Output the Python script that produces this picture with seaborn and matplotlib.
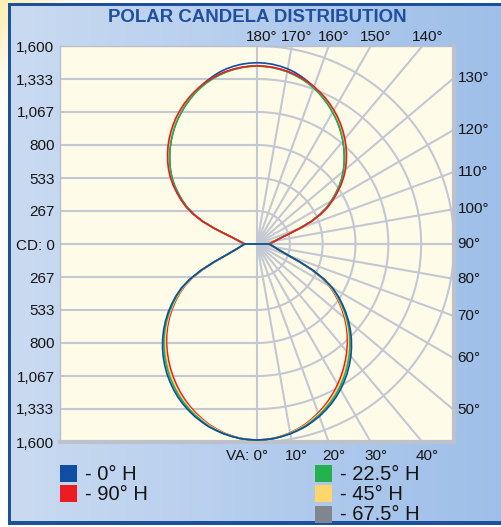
import numpy as np
import pandas as pd
import matplotlib
matplotlib.use("Agg")
import matplotlib.pyplot as plt
import seaborn as sns
from matplotlib.patches import Rectangle

# ---------------- data ----------------
# vertical angles (deg), lower hemisphere 0..90 and upper hemisphere 90..180, 2.5 deg steps
va_lower = [0, 2.5, 5, 7.5, 10, 12.5, 15, 17.5, 20, 22.5, 25, 27.5, 30, 32.5, 35, 37.5, 40, 42.5, 45,
            47.5, 50, 52.5, 55, 57.5, 60, 62.5, 65, 67.5, 70, 72.5, 75, 77.5, 80, 82.5, 85, 87.5, 90]
va_upper = [90, 92.5, 95, 97.5, 100, 102.5, 105, 107.5, 110, 112.5, 115, 117.5, 120, 122.5, 125, 127.5,
            130, 132.5, 135, 137.5, 140, 142.5, 145, 147.5, 150, 152.5, 155, 157.5, 160, 162.5, 165,
            167.5, 170, 172.5, 175, 177.5, 180]

# candela, lower hemisphere
cd_lower_0 = [1584, 1582, 1578, 1569, 1558, 1543, 1527, 1505, 1482, 1455, 1426, 1393, 1357, 1318, 1277,
              1232, 1186, 1136, 1084, 1029, 971, 910, 846, 780, 709, 615, 500, 375, 275, 222, 184, 160,
              143, 130, 118, 108, 100]
cd_lower_22 = [1584, 1582, 1577, 1567, 1555, 1539, 1521, 1497, 1472, 1443, 1412, 1378, 1341, 1301, 1259,
               1214, 1168, 1119, 1068, 1014, 956, 896, 833, 768, 698, 607, 495, 372, 274, 221, 184, 160,
               143, 130, 118, 108, 100]
cd_lower_45 = [1584, 1582, 1577, 1566, 1553, 1534, 1515, 1489, 1463, 1432, 1400, 1364, 1326, 1285, 1243,
               1198, 1152, 1103, 1053, 999, 943, 884, 822, 757, 688, 599, 490, 370, 273, 220, 184, 160,
               143, 130, 118, 108, 100]
cd_lower_67 = [1584, 1582, 1577, 1566, 1553, 1534, 1515, 1489, 1463, 1432, 1400, 1364, 1326, 1285, 1243,
               1198, 1152, 1103, 1053, 999, 943, 884, 822, 757, 688, 599, 490, 370, 273, 220, 184, 160,
               143, 130, 118, 108, 100]
cd_lower_90 = [1584, 1582, 1576, 1564, 1550, 1530, 1509, 1482, 1453, 1421, 1387, 1350, 1310, 1269, 1226,
               1181, 1135, 1087, 1037, 985, 929, 871, 810, 746, 678, 591, 485, 367, 271, 220, 183, 160,
               143, 130, 118, 108, 100]

# candela, upper hemisphere
cd_upper_0 = [100, 109, 120, 135, 153, 177, 210, 272, 365, 476, 563, 638, 699, 757, 815, 868, 916, 961,
              1004, 1046, 1086, 1125, 1162, 1197, 1229, 1261, 1290, 1320, 1350, 1377, 1400, 1421, 1437,
              1449, 1458, 1463, 1465]
cd_upper_22 = [100, 109, 120, 135, 153, 177, 210, 272, 365, 476, 563, 638, 699, 757, 815, 868, 916, 961,
               1004, 1046, 1086, 1125, 1162, 1197, 1229, 1261, 1290, 1317, 1342, 1364, 1383, 1399, 1413,
               1423, 1431, 1436, 1438]
cd_upper_45 = [100, 109, 120, 135, 153, 177, 211, 273, 367, 479, 568, 644, 706, 765, 824, 878, 927, 972,
               1016, 1058, 1098, 1136, 1173, 1207, 1239, 1270, 1298, 1324, 1348, 1369, 1387, 1402, 1415,
               1425, 1432, 1437, 1439]
cd_upper_67 = [100, 109, 120, 135, 153, 177, 211, 273, 367, 479, 568, 644, 706, 765, 824, 878, 927, 972,
               1016, 1058, 1098, 1136, 1173, 1207, 1239, 1270, 1298, 1324, 1348, 1369, 1387, 1402, 1415,
               1425, 1432, 1437, 1439]
cd_upper_90 = [100, 109, 120, 135, 153, 178, 212, 275, 370, 482, 572, 650, 713, 773, 833, 888, 938, 984,
               1028, 1070, 1110, 1148, 1184, 1218, 1249, 1279, 1306, 1331, 1354, 1374, 1391, 1406, 1418,
               1427, 1434, 1438, 1440]

cd_ticks = [1600, 1333.33, 1066.67, 800, 533.33, 266.67, 0,
            -266.67, -533.33, -800, -1066.67, -1333.33, -1600]
cd_tick_labels = ["1,600", "1,333", "1,067", "800", "533", "267", "CD: 0",
                  "267", "533", "800", "1,067", "1,333", "1,600"]
top_angles = [180, 170, 160, 150, 140]
right_angles = [130, 120, 110, 100, 90, 80, 70, 60, 50]
bottom_angles = [0, 10, 20, 30, 40]

legend_labels = ["- 0° H", "- 90° H", "- 22.5° H", "- 45° H", "- 67.5° H"]
series_colors = {"0": "#0f4ea3", "22.5": "#22b14c", "45": "#ffd66b", "67.5": "#80868e", "90": "#ec1c24"}

# ---------------- figure ----------------
sns.set_style("white")
plt.rcParams['font.family'] = ['Liberation Sans', 'DejaVu Sans']

W, H = 501, 527
fig = plt.figure(figsize=(W / 100, H / 100), dpi=100)

# background panel with gradient and frame
bg = fig.add_axes([0, 0, 1, 1], zorder=-5)
yy, xx = np.mgrid[0:H, 0:W]
img = np.ones((H, W, 3))
glow = np.exp(-(xx ** 2 + yy ** 2) / (2 * 45.0 ** 2))[..., None]
img = img * (1 - glow) + np.array([1.0, 0.94, 0.72]) * glow
inside = (xx >= 9) & (yy >= 4) & (yy <= 522)
t = (xx / W)[..., None]
grad = np.array([203, 219, 241]) / 255 * (1 - t) + np.array([158, 191, 233]) / 255 * t
img = np.where(inside[..., None], grad, img)
frame = (((xx >= 8) & (xx <= 10) & (yy >= 3) & (yy <= 524)) |
         ((yy >= 3) & (yy <= 5) & (xx >= 8)) |
         ((yy >= 521) & (yy <= 524) & (xx >= 8)))
img[frame] = np.array([28, 79, 156]) / 255
bg.imshow(img, interpolation='nearest', aspect='auto', extent=[0, W, H, 0])
bg.axis('off')

# main plot area
ax = fig.add_axes([60 / W, 1 - 442 / H, 394 / W, 396 / H])
ax.set_facecolor('#fffbe9')
R = 1600
ax.set_xlim(-R, R)
ax.set_ylim(-R, R)

gc = '#c3c8d3'
glw = 1.5
step = R / 6
for k in range(1, 6):
    for s in (1, -1):
        ax.plot([-R, 0], [s * k * step] * 2, color=gc, lw=glw, zorder=1)
ax.plot([-R, R], [0, 0], color=gc, lw=glw, zorder=1)
ax.plot([0, 0], [-R, R], color=gc, lw=glw, zorder=1)
for a in range(10, 180, 10):
    rad = np.deg2rad(a)
    ax.plot([0, 3 * R * np.sin(rad)], [0, -3 * R * np.cos(rad)], color=gc, lw=glw, zorder=1)
phi = np.linspace(0, np.pi, 300)
for k in range(1, 7):
    ax.plot(k * step * np.sin(phi), -k * step * np.cos(phi), color=gc, lw=glw, zorder=1)


def lobe(va, cd, upper):
    va = np.deg2rad(np.asarray(va, float))
    cd = np.asarray(cd, float)
    xr = cd * np.sin(va)
    yr = -cd * np.cos(va)
    if not upper:
        xs = np.concatenate([-xr[::-1], xr[1:], [-xr[-1]]])
        ys = np.concatenate([yr[::-1], yr[1:], [yr[-1]]])
    else:
        xs = np.concatenate([xr, -xr[::-1][1:], [xr[0]]])
        ys = np.concatenate([yr, yr[::-1][1:], [yr[0]]])
    return pd.DataFrame({"x": xs, "y": ys})


upper_order = [("0", cd_upper_0), ("67.5", cd_upper_67), ("45", cd_upper_45),
               ("22.5", cd_upper_22), ("90", cd_upper_90)]
lower_order = [("67.5", cd_lower_67), ("90", cd_lower_90), ("45", cd_lower_45),
               ("22.5", cd_lower_22), ("0", cd_lower_0)]
z = 3
for name, vals in upper_order:
    df = lobe(va_upper, vals, True)
    sns.lineplot(data=df, x="x", y="y", sort=False, estimator=None, color=series_colors[name],
                 linewidth=1.2, ax=ax, legend=False, zorder=z)
    z += 1
for name, vals in lower_order:
    df = lobe(va_lower, vals, False)
    sns.lineplot(data=df, x="x", y="y", sort=False, estimator=None, color=series_colors[name],
                 linewidth=1.2, ax=ax, legend=False, zorder=z)
    z += 1

ax.set_xlabel("")
ax.set_ylabel("")
ax.set_xticks([])
ax.set_yticks(cd_ticks)
ax.set_yticklabels(cd_tick_labels)
ax.tick_params(axis='y', length=0, pad=4, labelsize=11, labelcolor='#151515')

for sp in ('left', 'top'):
    ax.spines[sp].set_color('#b9bec9')
    ax.spines[sp].set_linewidth(1.0)
for sp in ('right', 'bottom'):
    ax.spines[sp].set_color('#bcc1cb')
    ax.spines[sp].set_linewidth(3.0)
for sp in ax.spines.values():
    sp.set_visible(True)

lab_kw = dict(fontsize=11, color='#151515', annotation_clip=False, textcoords='offset points')
for a in top_angles:
    x = R * np.tan(np.deg2rad(180 - a))
    ax.annotate(f"{a}°", xy=(x, R), xytext=(3.6, 6.2), ha='center', va='center', **lab_kw)
for a in right_angles:
    y = -R * np.cos(np.deg2rad(a)) / np.sin(np.deg2rad(a))
    ax.annotate(f"{a}°", xy=(R, y), xytext=(2.6, 0), ha='left', va='center', **lab_kw)
for a in bottom_angles:
    x = R * np.tan(np.deg2rad(a))
    if a == 0:
        ax.annotate(f"VA: {a}°", xy=(x, -R), xytext=(8.0, -9.8), ha='right', va='center', **lab_kw)
    else:
        ax.annotate(f"{a}°", xy=(x, -R), xytext=(3.6, -9.8), ha='center', va='center', **lab_kw)

fig.text(257.5 / W, 1 - 17.5 / H, "POLAR CANDELA DISTRIBUTION", ha='center', va='center',
         fontsize=13.4, fontweight='bold', color='#1f4f9e')

# legend
leg_items = [("0", 60, 465, legend_labels[0]), ("90", 60, 485, legend_labels[1]),
             ("22.5", 315, 465, legend_labels[2]), ("45", 315, 485, legend_labels[3]),
             ("67.5", 315, 506, legend_labels[4])]
for name, px, py, lbl in leg_items:
    fig.patches.append(Rectangle((px / W, 1 - (py + 17) / H), 17 / W, 17 / H,
                                 transform=fig.transFigure, facecolor=series_colors[name],
                                 edgecolor='none', zorder=5))
    fig.text((px + 25) / W, 1 - (py + 9) / H, lbl, ha='left', va='center',
             fontsize=14.5, color='#151515')

fig.savefig("out.png", dpi=100)
